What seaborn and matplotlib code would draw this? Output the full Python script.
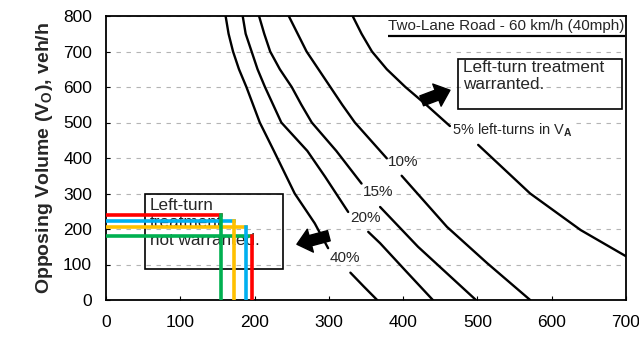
import numpy as np
import pandas as pd
import matplotlib
matplotlib.use("Agg")
import matplotlib.pyplot as plt
import seaborn as sns
from matplotlib.patches import Rectangle

# ---- warrant curves (advancing volume V_A vs opposing volume V_O) ----
# each curve is split where its percentage label sits
c40_top_x = [161, 165, 171, 179, 189, 198, 207, 226, 254, 281, 299]
c40_top_y = [800, 750, 700, 650, 600, 550, 500, 420, 300, 216, 146]
c40_low_x = [329, 347, 365]
c40_low_y = [77, 38, 0]

c20_top_x = [184, 188, 196, 204, 214, 225, 236, 271, 295, 326]
c20_top_y = [800, 750, 700, 650, 600, 550, 500, 420, 347, 248]
c20_low_x = [353, 369, 403, 440]
c20_low_y = [192, 160, 83, 0]

c15_top_x = [206, 213, 221, 234, 250, 263, 277, 310, 344]
c15_top_y = [800, 750, 700, 650, 600, 550, 500, 420, 328]
c15_low_x = [369, 420, 498]
c15_low_y = [262, 150, 0]

c10_top_x = [246, 258, 270, 286, 302, 318, 335, 378]
c10_top_y = [800, 750, 700, 650, 600, 550, 500, 399]
c10_low_x = [398, 459, 513, 571]
c10_low_y = [350, 206, 104, 0]

c05_top_x = [332, 344, 358, 378, 403, 431, 463]
c05_top_y = [800, 750, 700, 650, 600, 550, 490]
c05_low_x = [501, 571, 639, 701]
c05_low_y = [437, 300, 197, 122]

curve_labels = ["40%", "20%", "15%", "10%"]
curve_label_x = [321, 349, 366, 400]
curve_label_y = [118, 231, 304, 389]

# ---- example operating points (horizontal and vertical guides) ----
guide_x = [155, 172, 189, 196]
guide_y = [239, 223, 205, 181]
horiz_colors = ["#FF0000", "#00B0F0", "#FFC000", "#00B050"]
vert_colors = ["#00B050", "#FFC000", "#00B0F0", "#FF0000"]

x_ticks = [0, 100, 200, 300, 400, 500, 600, 700]
y_ticks = [0, 100, 200, 300, 400, 500, 600, 700, 800]

sns.set_theme(style="white")
plt.rcParams["font.family"] = ["Liberation Sans", "DejaVu Sans"]
plt.rcParams["mathtext.fontset"] = "custom"
plt.rcParams["mathtext.rm"] = "Liberation Sans:bold"
plt.rcParams["mathtext.it"] = "Liberation Sans:bold"
plt.rcParams["mathtext.bf"] = "Liberation Sans:bold"

fig = plt.figure(figsize=(6.39, 3.37), dpi=100)
ax = fig.add_axes([106 / 639, 1 - 300 / 337, 520 / 639, 284 / 337])

segments = [
    ("40a", c40_top_x, c40_top_y), ("40b", c40_low_x, c40_low_y),
    ("20a", c20_top_x, c20_top_y), ("20b", c20_low_x, c20_low_y),
    ("15a", c15_top_x, c15_top_y), ("15b", c15_low_x, c15_low_y),
    ("10a", c10_top_x, c10_top_y), ("10b", c10_low_x, c10_low_y),
    ("05a", c05_top_x, c05_top_y), ("05b", c05_low_x, c05_low_y),
]
rows = []
for seg, xs, ys in segments:
    for i, (x, y) in enumerate(zip(xs, ys)):
        rows.append((seg, i, x, y))
df = pd.DataFrame(rows, columns=["segment", "order", "Va", "Vo"])

sns.lineplot(data=df, x="Va", y="Vo", units="segment", estimator=None,
             sort=False, color="black", linewidth=1.7, legend=False, ax=ax)

ax.set_xlim(0, 700)
ax.set_ylim(0, 800)
ax.set_xticks(x_ticks)
ax.set_yticks(y_ticks)
ax.set_xlabel("")
ax.set_ylabel("Opposing Volume (V$_\\mathrm{O}$), veh/h", fontsize=14,
              fontweight="bold", labelpad=6)

ax.yaxis.grid(True, linestyle=(0, (4, 5)), color="#b4b4b4", linewidth=0.8)
ax.xaxis.grid(False)
ax.set_axisbelow(True)
for sp in ax.spines.values():
    sp.set_color("black")
    sp.set_linewidth(1.3)
ax.tick_params(axis="both", direction="in", length=3, width=0.8,
               labelsize=12.5, colors="black", bottom=True, left=True)
ax.tick_params(axis="x", pad=11)
ax.tick_params(axis="y", pad=10)

# curve labels
for lab, lx, ly in zip(curve_labels, curve_label_x, curve_label_y):
    ax.text(lx, ly, lab, fontsize=11, ha="center", va="center")
ax.text(466, 479, "5% left-turns in V$_\\mathrm{A}$", fontsize=10.5,
        ha="left", va="center",
        bbox=dict(boxstyle="square,pad=0.1", fc="white", ec="none"))

# heading with underline
title = ax.text(698, 771, "Two-Lane Road - 60 km/h (40mph)", fontsize=11,
                ha="right", va="center")
fig.canvas.draw()
bb = title.get_window_extent().transformed(ax.transData.inverted())
ax.plot([bb.x0, bb.x1], [bb.y0 - 7, bb.y0 - 7], color="black", lw=1.6,
        solid_capstyle="butt")

# region boxes
ax.add_patch(Rectangle((474, 537), 220, 143, fill=False, ec="black", lw=1.2))
ax.text(480, 630, "Left-turn treatment\nwarranted.", fontsize=12.3,
        ha="left", va="center", linespacing=1.15)

ax.add_patch(Rectangle((52, 86), 186, 213, fill=False, ec="black", lw=1.2))
ax.text(59, 218, "Left-turn\ntreatment\nnot warranted.", fontsize=12.3,
        ha="left", va="center", linespacing=1.2)

# direction arrows
arrow = dict(arrowstyle="simple,head_length=0.5,head_width=0.85,tail_width=0.38",
             fc="black", ec="black", mutation_scale=20, shrinkA=0, shrinkB=0)
ax.annotate("", xy=(463, 591), xytext=(425, 561), arrowprops=arrow)
ax.annotate("", xy=(257, 157), xytext=(300, 181), arrowprops=arrow)

# guide lines for the example points
for gx, gy, hc in zip(guide_x, guide_y, horiz_colors):
    ax.plot([0, gx], [gy, gy], color=hc, lw=2.6, solid_capstyle="projecting",
            zorder=4)
for gx, gy, vc in zip(guide_x, guide_y, vert_colors):
    ax.plot([gx, gx], [0, gy], color=vc, lw=2.6, solid_capstyle="projecting",
            zorder=5)

fig.savefig("out.png", dpi=100)
